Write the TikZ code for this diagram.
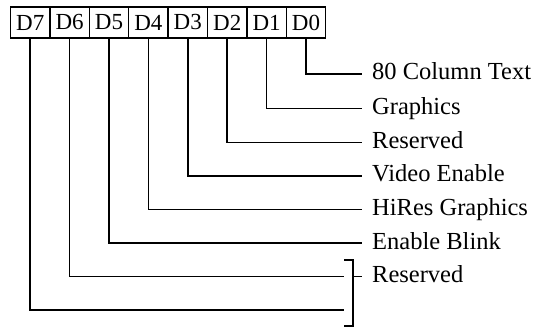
\documentclass[tikz,border=0pt]{standalone}
\usepackage{fontspec}
\setmainfont{Liberation Serif}
\usetikzlibrary{positioning}

\begin{document}
\begin{tikzpicture}[
  x=1pt,y=-1pt,
  node distance=0pt,
  bit/.style={draw,line width=1.5pt,outer sep=0pt,inner sep=0pt,minimum width=39.4pt,minimum height=31pt,font=\fontsize{23}{25}\selectfont},
  lab/.style={anchor=base west,yshift=-6pt,inner sep=0pt,inner xsep=10pt,font=\fontsize{24.5}{28}\selectfont},
  wire/.style={line width=1.5pt}
]
\useasboundingbox (0,0) rectangle (545,328);
% register bits
\node[bit,anchor=north west] (d7) at (10.5,7) {D7};
\node[bit,right=of d7] (d6) {D6};
\node[bit,right=of d6] (d5) {D5};
\node[bit,right=of d5] (d4) {D4};
\node[bit,right=of d4] (d3) {D3};
\node[bit,right=of d3] (d2) {D2};
\node[bit,right=of d2] (d1) {D1};
\node[bit,right=of d1] (d0) {D0};
% meanings
\node[lab] (l0) at (362,74) {80 Column Text};
\node[lab] (l1) at (362,108.5) {Graphics};
\node[lab] (l2) at (362,142.5) {Reserved};
\node[lab] (l3) at (362,176) {Video Enable};
\node[lab] (l4) at (362,209.5) {HiRes Graphics};
\node[lab] (l5) at (362,243) {Enable Blink};
\node[lab] (l6) at (362,276.5) {Reserved};
\coordinate (e6) at (344,276.5);
\coordinate (e7) at (344,310);
\coordinate (btop) at (344,260);
\coordinate (bbot) at (344,326);
\coordinate (bmid) at (353,276.5);
\draw[wire] (d0.south) |- ([yshift=6pt]l0.base west);
\draw[wire] (d1.south) |- ([yshift=6pt]l1.base west);
\draw[wire] (d2.south) |- ([yshift=6pt]l2.base west);
\draw[wire] (d3.south) |- ([yshift=6pt]l3.base west);
\draw[wire] (d4.south) |- ([yshift=6pt]l4.base west);
\draw[wire] (d5.south) |- ([yshift=6pt]l5.base west);
\draw[wire] (d6.south) |- (e6);
\draw[wire] (d7.south) |- (e7);
% bracket for D6, D7
\draw[wire] (btop) -| (bmid) |- (bbot);
\draw[wire] (bmid) -- ([yshift=6pt]l6.base west);
\end{tikzpicture}
\end{document}
